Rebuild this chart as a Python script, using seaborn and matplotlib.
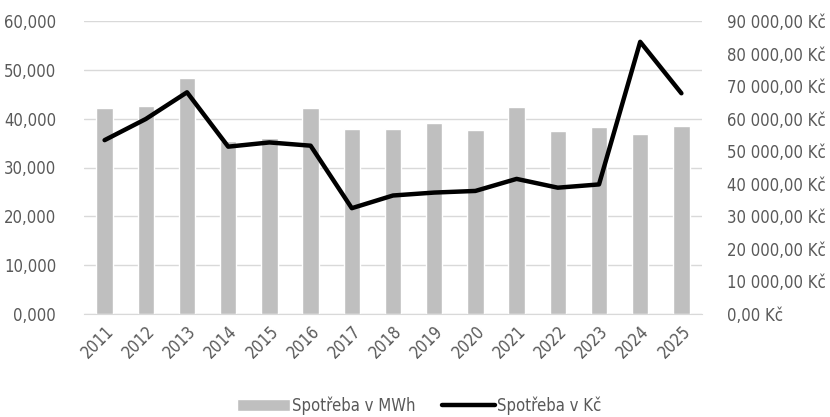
import matplotlib
matplotlib.use("Agg")
import matplotlib.pyplot as plt
import numpy as np
import pandas as pd
import seaborn as sns
from matplotlib.ticker import FuncFormatter, MultipleLocator

years = ["2011", "2012", "2013", "2014", "2015", "2016", "2017", "2018",
         "2019", "2020", "2021", "2022", "2023", "2024", "2025"]
mwh = [42200, 42600, 48400, 35500, 36100, 42200, 37900, 37950,
       39100, 37600, 42300, 37500, 38300, 36900, 38500]
kc = [53400, 59900, 68100, 51400, 52700, 51700, 32500, 36400,
      37300, 37800, 41500, 38800, 39800, 83600, 67800]

sns.set_style("white")
plt.rcParams['font.family'] = ['DejaVu Sans']
plt.rcParams['font.stretch'] = 'condensed'
text_col = "#595959"

df = pd.DataFrame({"year": years, "mwh": mwh, "kc": kc})

fig = plt.figure(figsize=(8.3, 4.17), dpi=100)
ax = fig.add_axes([84 / 830, 1 - 314 / 417, 618 / 830, 293 / 417])
sns.barplot(data=df, x="year", y="mwh", color="#bfbfbf", width=0.4,
            saturation=1, ax=ax, label="Spotřeba v MWh", zorder=2)
ax.set_ylim(0, 60000)
ax.yaxis.set_major_locator(MultipleLocator(10000))
ax.yaxis.set_major_formatter(FuncFormatter(lambda v, p: f"{v / 1000:.3f}".replace(".", ",")))
ax.grid(axis="y", color="#d9d9d9", linewidth=1, zorder=0)
ax.set_axisbelow(True)
ax.set_xlim(-0.5, len(years) - 0.5)
ax.set_xlabel("")
ax.set_ylabel("")
for s in ["top", "left", "right"]:
    ax.spines[s].set_visible(False)
ax.spines["bottom"].set_color("#d9d9d9")
ax.tick_params(axis="y", colors=text_col, labelsize=12, length=0, pad=20)
ax.tick_params(axis="x", colors=text_col, labelsize=12, length=0, pad=6)
for lbl in ax.get_xticklabels():
    lbl.set_rotation(45)
    lbl.set_ha("right")
    lbl.set_rotation_mode("anchor")
if ax.get_legend() is not None:
    ax.get_legend().remove()

ax2 = ax.twinx()
sns.lineplot(x=np.arange(len(years)), y=kc, color="black", linewidth=3.2,
             ax=ax2, label="Spotřeba v Kč")
ax2.set_ylim(0, 90000)
ax2.yaxis.set_major_locator(MultipleLocator(10000))


def kc_fmt(v, p):
    s = f"{v:,.2f}".replace(",", " ").replace(".", ",")
    return s + " Kč"


ax2.yaxis.set_major_formatter(FuncFormatter(kc_fmt))
ax2.tick_params(axis="y", colors=text_col, labelsize=12, length=0, pad=18)
for s in ["top", "left", "right", "bottom"]:
    ax2.spines[s].set_visible(False)
ax2.set_ylabel("")
ax2.get_legend().remove()

h1, l1 = ax.get_legend_handles_labels()
h2, l2 = ax2.get_legend_handles_labels()
fig.legend(h1 + h2, l1 + l2, loc="center", bbox_to_anchor=(0.505, 0.028),
           ncol=2, frameon=False, fontsize=12, labelcolor=text_col,
           handlelength=3.2, handletextpad=0.1, columnspacing=1.6)

fig.savefig("out.png", dpi=100)
